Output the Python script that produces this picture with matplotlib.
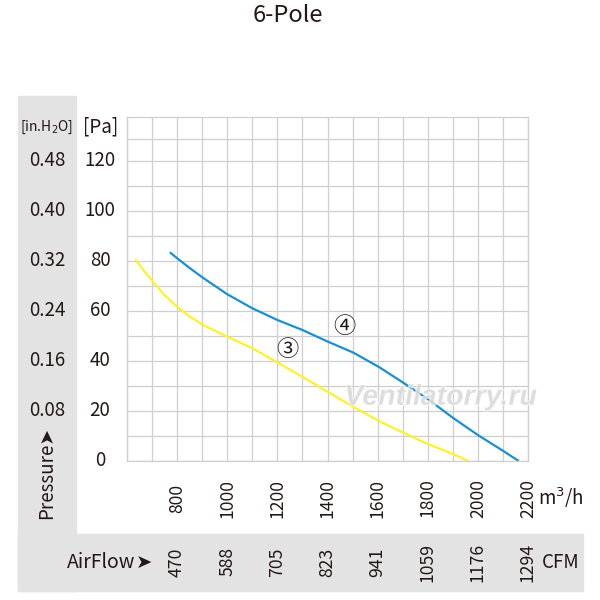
import matplotlib
matplotlib.use("Agg")
import matplotlib.pyplot as plt
from matplotlib.patches import Rectangle
from matplotlib.transforms import blended_transform_factory
import matplotlib.patheffects as pe
import numpy as np

plt.rcParams['font.family'] = ['Noto Sans CJK SC', 'DejaVu Sans']

# Data
flow_4 = [771, 800, 850, 900, 1000, 1100, 1200, 1300, 1400, 1504, 1607, 1707, 1800, 1900, 2000, 2100, 2163]
pa_4 = [83.5, 81.1, 77.2, 73.5, 66.7, 61.1, 56.4, 52.4, 47.8, 43.3, 37.5, 31.0, 24.8, 17.3, 10.4, 4.1, 0.0]
flow_3 = [633, 665, 700, 747, 800, 850, 900, 1000, 1100, 1200, 1300, 1400, 1504, 1607, 1707, 1800, 1900, 1963]
pa_3 = [80.7, 76.4, 72.2, 66.6, 61.7, 57.8, 54.6, 49.7, 45.1, 39.4, 33.7, 27.7, 21.6, 15.9, 11.1, 6.8, 2.8, 0.0]

x_ticks = [800, 1000, 1200, 1400, 1600, 1800, 2000, 2200]
cfm_labels = ['470', '588', '705', '823', '941', '1059', '1176', '1294']
pa_ticks = [0, 20, 40, 60, 80, 100, 120]
inh2o_labels = ['', '0.08', '0.16', '0.24', '0.32', '0.40', '0.48']

txt = '#231815'
grid_c = '#cfcfcf'

fig = plt.figure(figsize=(6, 6), dpi=100)
W = H = 600.0

def fx(px):
    return px / W

def fy(py):
    return 1 - py / H

# grey panels
fig.patches.append(Rectangle((fx(18), fy(591)), (76 - 18) / W, (591 - 96) / H,
                             transform=fig.transFigure, color='#e3e3e3', zorder=-5))
fig.patches.append(Rectangle((fx(18), fy(591)), (583 - 18) / W, (591 - 534) / H,
                             transform=fig.transFigure, color='#e3e3e3', zorder=-5))

ax = fig.add_axes([fx(127), fy(461), (528 - 127) / W, (461 - 117) / H])
ax.set_xlim(600, 2200)
ax.set_ylim(0, 137.6)
ax.set_xticks(np.arange(600, 2201, 100))
ax.set_yticks(list(np.arange(0, 121, 10)) + [128.8])
ax.tick_params(length=0, labelbottom=False, labelleft=False)
ax.grid(True, color=grid_c, linewidth=0.9)
for s in ax.spines.values():
    s.set_color(grid_c)
    s.set_linewidth(0.9)
ax.set_axisbelow(True)

ax.plot(flow_4, pa_4, color='#1a90d4', linewidth=1.6, solid_capstyle='butt', solid_joinstyle='round')
ax.plot(flow_3, pa_3, color='#fff12a', linewidth=1.6, solid_capstyle='butt', solid_joinstyle='round')

ax.text(1468, 53.8, '④', fontsize=16, color=txt, ha='center', va='center')
ax.text(1240, 44.4, '③', fontsize=16, color=txt, ha='center', va='center')

# watermark
ax.text(1852, 25.3, 'Ventilatorry.ru', fontsize=20.5, color='#d8d8d8', alpha=0.7,
        ha='center', va='center', style='italic', weight='bold',
        family='Liberation Sans', zorder=3,
        path_effects=[pe.withStroke(linewidth=1.5, foreground='white', alpha=0.6)])

# y labels
ty = blended_transform_factory(fig.transFigure, ax.transData)
for v, lab in zip(pa_ticks, inh2o_labels):
    ax.text(fx(100), v, str(v), transform=ty, fontsize=13.5, color=txt,
            ha='center', va='center', clip_on=False)
    if lab:
        ax.text(fx(47), v, lab, transform=ty, fontsize=13.5, color=txt,
                ha='center', va='center', clip_on=False)

fig.text(fx(101), fy(127), '[Pa]', fontsize=13.5, color=txt, ha='center', va='center')
fig.text(fx(47), fy(127), '[in.H$_2$O]', fontsize=10, color=txt, ha='center', va='center')

# x labels
tx = blended_transform_factory(ax.transData, fig.transFigure)
for v, c in zip(x_ticks, cfm_labels):
    ax.text(v, fy(498), str(v), transform=tx, fontsize=12.7, color=txt,
            rotation=90, ha='center', va='center', clip_on=False)
    ax.text(v, fy(562), c, transform=tx, fontsize=12.7, color=txt,
            rotation=90, ha='center', va='center', clip_on=False)

fig.text(fx(538), fy(498), 'm$^3$/h', fontsize=13.5, color=txt, ha='left', va='center')
fig.text(fx(542), fy(563), 'CFM', fontsize=13.5, color=txt, ha='left', va='center')
fig.text(fx(135), fy(563), 'AirFlow', fontsize=14, color=txt, ha='right', va='center')
fig.text(fx(136), fy(563), '➤', fontsize=14, color=txt, ha='left', va='center',
         family='DejaVu Sans')
fig.text(fx(47), fy(473), 'Pressure➤', fontsize=13.5, color=txt, rotation=90,
         ha='center', va='center')

fig.text(0.48, fy(16), '6-Pole', fontsize=17, color=txt, ha='center', va='center')

fig.savefig('out.png', dpi=100)
